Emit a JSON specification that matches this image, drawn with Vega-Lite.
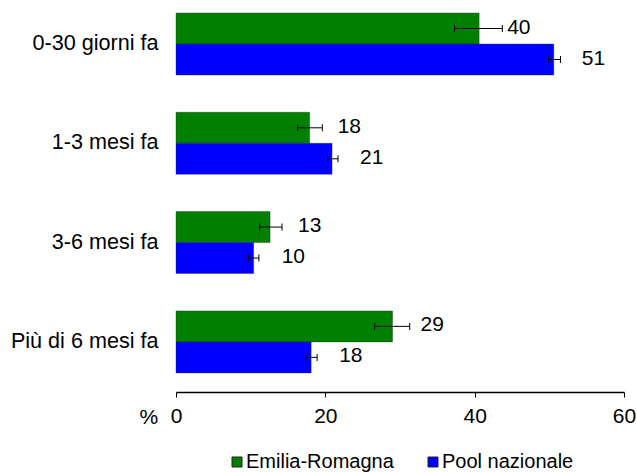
{
  "$schema": "https://vega.github.io/schema/vega-lite/v6.json",
  "width": 448,
  "height": 392,
  "autosize": {"type": "none"},
  "padding": {"left": 176, "top": 0, "right": 13, "bottom": 80},
  "config": {
    "view": {"stroke": null},
    "font": "Liberation Sans",
    "axis": {"labelColor": "#000000", "titleColor": "#000000"},
    "legend": {"labelColor": "#000000"}
  },
  "data": {
    "values": [
      {"cat": "0-30 giorni fa", "series": "Emilia-Romagna", "value": 40.6, "lo": 37.3, "hi": 43.7, "label": "40"},
      {"cat": "0-30 giorni fa", "series": "Pool nazionale", "value": 50.6, "lo": 49.9, "hi": 51.5, "label": "51"},
      {"cat": "1-3 mesi fa", "series": "Emilia-Romagna", "value": 17.9, "lo": 16.3, "hi": 19.6, "label": "18"},
      {"cat": "1-3 mesi fa", "series": "Pool nazionale", "value": 20.9, "lo": 20.3, "hi": 21.7, "label": "21"},
      {"cat": "3-6 mesi fa", "series": "Emilia-Romagna", "value": 12.6, "lo": 11.2, "hi": 14.2, "label": "13"},
      {"cat": "3-6 mesi fa", "series": "Pool nazionale", "value": 10.4, "lo": 9.7, "hi": 11.1, "label": "10"},
      {"cat": "Più di 6 mesi fa", "series": "Emilia-Romagna", "value": 29.0, "lo": 26.6, "hi": 31.3, "label": "29"},
      {"cat": "Più di 6 mesi fa", "series": "Pool nazionale", "value": 18.1, "lo": 17.4, "hi": 18.9, "label": "18"}
    ]
  },
  "encoding": {
    "y": {
      "field": "cat",
      "type": "nominal",
      "sort": ["0-30 giorni fa", "1-3 mesi fa", "3-6 mesi fa", "Più di 6 mesi fa"],
      "scale": {"paddingInner": 0.3756, "paddingOuter": 0.1618, "align": 0.405},
      "axis": {"title": null, "domain": false, "ticks": false, "labelFontSize": 21.6, "labelPadding": 18}
    },
    "yOffset": {
      "field": "series",
      "type": "nominal",
      "sort": ["Emilia-Romagna", "Pool nazionale"],
      "scale": {"paddingInner": 0, "paddingOuter": 0}
    }
  },
  "layer": [
    {
      "mark": {"type": "bar", "stroke": "#222222", "strokeWidth": 0.5, "strokeOpacity": 0.7},
      "encoding": {
        "x": {
          "field": "value",
          "type": "quantitative",
          "scale": {"domain": [0, 60], "nice": false},
          "axis": {
            "values": [0, 20, 40, 60],
            "grid": false,
            "title": "%",
            "titleX": -37,
            "titleY": 31,
            "titleAlign": "left",
            "titleBaseline": "alphabetic",
            "titleFontWeight": "normal",
            "titleFontSize": 21,
            "tickSize": 5,
            "tickColor": "#000000",
            "domainColor": "#000000",
            "domainWidth": 1.5,
            "labelFontSize": 21,
            "labelPadding": 8,
            "labelFlush": false
          }
        },
        "color": {
          "field": "series",
          "type": "nominal",
          "sort": ["Emilia-Romagna", "Pool nazionale"],
          "scale": {"domain": ["Emilia-Romagna", "Pool nazionale"], "range": ["#008000", "#0000FF"]},
          "legend": {
            "orient": "none",
            "direction": "horizontal",
            "legendX": 51,
            "legendY": 452,
            "title": null,
            "symbolType": "square",
            "symbolSize": 100,
            "symbolStrokeColor": "#222222",
            "symbolStrokeWidth": 1,
            "labelFontSize": 20,
            "labelOffset": -1,
            "columnPadding": 29,
            "padding": 0
          }
        }
      }
    },
    {
      "mark": {"type": "rule", "color": "#000000", "strokeWidth": 1},
      "encoding": {
        "x": {"field": "lo", "type": "quantitative"},
        "x2": {"field": "hi"}
      }
    },
    {
      "mark": {"type": "tick", "orient": "vertical", "size": 7, "thickness": 1, "color": "#000000", "opacity": 1},
      "encoding": {"x": {"field": "lo", "type": "quantitative"}}
    },
    {
      "mark": {"type": "tick", "orient": "vertical", "size": 7, "thickness": 1, "color": "#000000", "opacity": 1},
      "encoding": {"x": {"field": "hi", "type": "quantitative"}}
    },
    {
      "mark": {"type": "text", "align": "left", "baseline": "middle", "dx": 28, "dy": -1, "fontSize": 21, "color": "#000000"},
      "encoding": {
        "x": {"field": "value", "type": "quantitative"},
        "text": {"field": "label"}
      }
    }
  ]
}
